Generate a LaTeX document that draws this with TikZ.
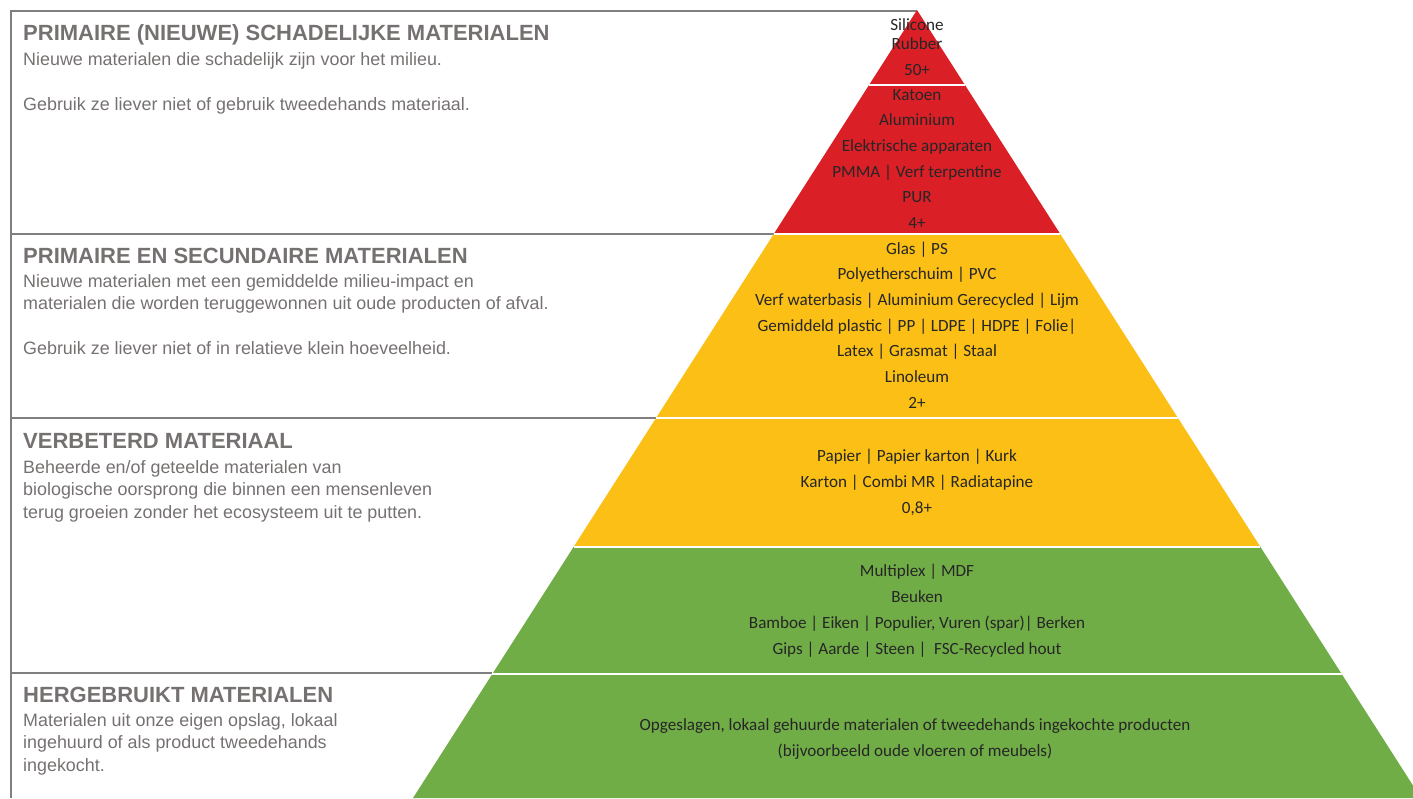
\documentclass[tikz,border=0pt]{standalone}
\usepackage{fontspec}
\setmainfont{Carlito}
\newfontfamily\leftfont{Liberation Sans}
\definecolor{pyrred}{RGB}{218,31,38}
\definecolor{pyryel}{RGB}{251,191,21}
\definecolor{pyrgrn}{RGB}{112,173,71}
\definecolor{txtgray}{RGB}{118,113,113}
\definecolor{linegray}{RGB}{127,127,127}
\definecolor{pyrtext}{RGB}{38,38,38}
\begin{document}
\begin{tikzpicture}[x=1pt,y=-1pt,
  ptext/.style={font=\fontsize{17.1}{20}\selectfont, text=pyrtext, anchor=base, inner sep=0},
  ltitle/.style={font=\leftfont\bfseries\fontsize{22}{24}\selectfont, text=txtgray, anchor=base west, inner sep=0},
  lbody/.style={font=\leftfont\fontsize{17.9}{22}\selectfont, text=txtgray, anchor=base west, inner sep=0},
  gline/.style={draw=linegray, line width=2pt},
  sepline/.style={draw=white, line width=2pt}]
\useasboundingbox (0,0) rectangle (1413,798);

% corner coordinates of the pyramid
\coordinate (apex) at (917,10);
\coordinate (L1) at (869.35,84.5);   \coordinate (R1) at (964.65,84.5);
\coordinate (L2) at (774.05,233.5);  \coordinate (R2) at (1059.95,233.5);
\coordinate (L3) at (656.04,418);    \coordinate (R3) at (1177.96,418);
\coordinate (L4) at (573.85,546.5);  \coordinate (R4) at (1260.15,546.5);
\coordinate (L5) at (492.31,674);    \coordinate (R5) at (1341.69,674);
\coordinate (L6) at (413,798);       \coordinate (R6) at (1421,798);

% grey frame lines
\coordinate (f0) at (10.5,11);
\coordinate (f1) at (10.5,798);
\coordinate (g1) at (10.5,234);
\coordinate (g2) at (10.5,418);
\coordinate (g3) at (10.5,673);
\draw[gline] (apex |- f0) -- (f0) -- (f1);
\draw[gline] (g1) -- (L2 |- g1);
\draw[gline] (g2) -- (L3 |- g2);
\draw[gline] (g3) -- (L5 |- g3);

% pyramid bands
\fill[pyrred] (apex) -- (L2) -- (R2) -- cycle;
\fill[pyryel] (L2) -- (L4) -- (R4) -- (R2) -- cycle;
\fill[pyrgrn] (L4) -- (L6) -- (R6) -- (R4) -- cycle;
\draw[sepline] (L1) -- (R1);
\draw[sepline] (L2) -- (R2);
\draw[sepline] (L3) -- (R3);
\draw[sepline] (L4) -- (R4);
\draw[sepline] (L5) -- (R5);

% pyramid texts
\node[ptext] (a1) at (917,30) {Silicone};
\node[ptext] (a2) at (917,49) {Rubber};
\node[ptext] (a3) at (917,75) {50+};
\node[ptext] (b1) at (917,100) {Katoen};
\node[ptext] (b2) at (917,125.7) {Aluminium};
\node[ptext] (b3) at (917,151.3) {Elektrische apparaten};
\node[ptext] (b4) at (917,177) {PMMA | Verf terpentine};
\node[ptext] (b5) at (917,202.7) {PUR};
\node[ptext] (b6) at (917,228.3) {4+};
\node[ptext] (c1) at (917,254) {Glas | PS};
\node[ptext] (c2) at (917,279.7) {Polyetherschuim | PVC};
\node[ptext] (c3) at (917,305.3) {Verf waterbasis | Aluminium Gerecycled | Lijm};
\node[ptext] (c4) at (917,331) {Gemiddeld plastic | PP | LDPE | HDPE | Folie|};
\node[ptext] (c5) at (917,356.7) {Latex | Grasmat | Staal};
\node[ptext] (c6) at (917,382.5) {Linoleum};
\node[ptext] (c7) at (917,408.3) {2+};
\node[ptext] (d1) at (917,461.7) {Papier | Papier karton | Kurk};
\node[ptext] (d2) at (917,487.7) {Karton | Combi MR | Radiatapine};
\node[ptext] (d3) at (917,513.3) {0,8+};
\node[ptext] (e1) at (917,576.7) {Multiplex | MDF};
\node[ptext] (e2) at (917,602.7) {Beuken};
\node[ptext] (e3) at (917,628.7) {Bamboe | Eiken | Populier, Vuren (spar)| Berken};
\node[ptext] (e4) at (917,654.3) {Gips | Aarde | Steen |\ \ FSC-Recycled hout};
\node[ptext] (h1) at (915,730.7) {Opgeslagen, lokaal gehuurde materialen of tweedehands ingekochte producten};
\node[ptext] (h2) at (915,756.7) {(bijvoorbeeld oude vloeren of meubels)};

% left descriptions
\node[ltitle] (t1) at (23,40) {PRIMAIRE (NIEUWE) SCHADELIJKE MATERIALEN};
\node[lbody] (t1a) at (23,65) {Nieuwe materialen die schadelijk zijn voor het milieu.};
\node[lbody] (t1b) at (23,110) {Gebruik ze liever niet of gebruik tweedehands materiaal.};

\node[ltitle] (t2) at (23,263) {PRIMAIRE EN SECUNDAIRE MATERIALEN};
\node[lbody] (t2a) at (23,287) {Nieuwe materialen met een gemiddelde milieu-impact en};
\node[lbody] (t2b) at (23,309.5) {materialen die worden teruggewonnen uit oude producten of afval.};
\node[lbody] (t2c) at (23,354.5) {Gebruik ze liever niet of in relatieve klein hoeveelheid.};

\node[ltitle] (t3) at (23,448) {VERBETERD MATERIAAL};
\node[lbody] (t3a) at (23,473) {Beheerde en/of geteelde materialen van};
\node[lbody] (t3b) at (23,495.5) {biologische oorsprong die binnen een mensenleven};
\node[lbody] (t3c) at (23,518) {terug groeien zonder het ecosysteem uit te putten.};

\node[ltitle] (t4) at (23,702) {HERGEBRUIKT MATERIALEN};
\node[lbody] (t4a) at (23,726) {Materialen uit onze eigen opslag, lokaal};
\node[lbody] (t4b) at (23,748.5) {ingehuurd of als product tweedehands};
\node[lbody] (t4c) at (23,771) {ingekocht.};
\end{tikzpicture}
\end{document}
